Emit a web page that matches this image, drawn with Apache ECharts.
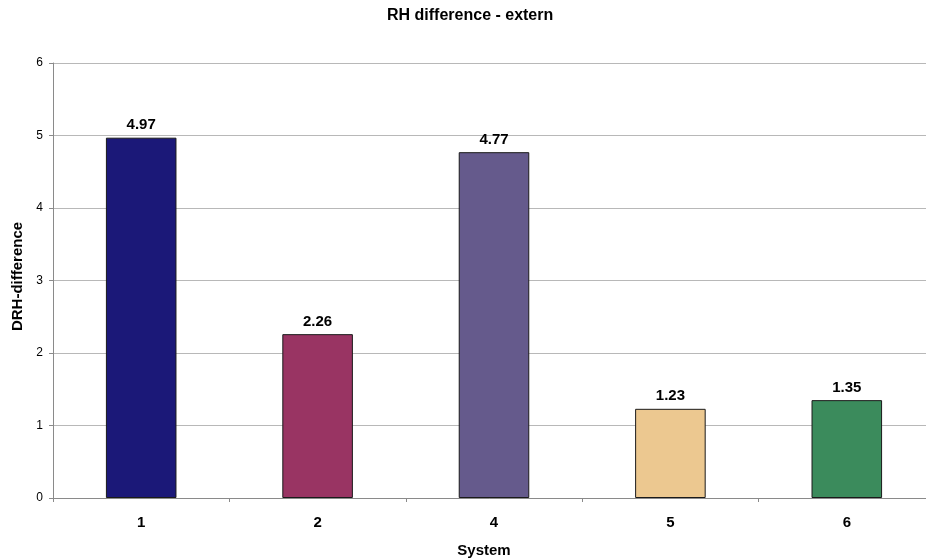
<!DOCTYPE html>
<html>
<head>
<meta charset="utf-8">
<script src="https://cdn.jsdelivr.net/npm/echarts@6/dist/echarts.min.js"></script>
<style>
  html, body { margin: 0; padding: 0; background: #fff; }
  #chart { width: 926px; height: 558px; }
</style>
</head>
<body>
<div id="chart"></div>
<script>
// System categories and their RH differences
const systems = ['1', '2', '4', '5', '6'];
const rhDiff = [4.97, 2.26, 4.77, 1.23, 1.35];
const barColors = ['#1b1878', '#993463', '#655a8c', '#ecc890', '#3b8b5c'];
const yTicks = [0, 1, 2, 3, 4, 5, 6];

const font = 'Liberation Sans, Arial, sans-serif';
const chart = echarts.init(document.getElementById('chart'), null, { renderer: 'canvas' });

chart.setOption({
  backgroundColor: '#ffffff',
  animation: false,
  title: {
    text: 'RH difference - extern',
    left: 387,
    top: 8,
    padding: 0,
    textStyle: { fontFamily: font, fontSize: 16, fontWeight: 'bold', color: '#000' }
  },
  // plot area runs a little past the right edge of the canvas
  grid: { left: 53, top: 63, width: 882, height: 435, containLabel: false, outerBoundsMode: 'none' },
  xAxis: {
    type: 'category',
    data: systems,
    name: 'System',
    nameLocation: 'middle',
    nameGap: 45,
    nameTextStyle: { fontFamily: font, fontSize: 15, fontWeight: 'bold', color: '#000', padding: [0, 20, 0, 0] },
    axisLine: { lineStyle: { color: '#8a8a8a', width: 1 } },
    axisTick: { show: true, length: 4, lineStyle: { color: '#8a8a8a' } },
    axisLabel: { fontFamily: font, fontSize: 15, fontWeight: 'bold', color: '#000', margin: 17 }
  },
  yAxis: {
    type: 'value',
    min: yTicks[0],
    max: yTicks[yTicks.length - 1],
    interval: 1,
    name: 'DRH-difference',
    nameLocation: 'middle',
    nameGap: 22,
    nameTextStyle: { fontFamily: font, fontSize: 15, fontWeight: 'bold', color: '#000', padding: [0, 0, 0, 8] },
    axisLine: { show: true, lineStyle: { color: '#8a8a8a', width: 1 } },
    axisTick: { show: true, length: 4, lineStyle: { color: '#8a8a8a' } },
    axisLabel: { fontFamily: font, fontSize: 12, color: '#000', margin: 10 },
    splitLine: { show: true, lineStyle: { color: '#b8b8b8', width: 1 } }
  },
  series: [{
    type: 'bar',
    data: rhDiff.map((v, i) => ({ value: v, itemStyle: { color: barColors[i] } })),
    barWidth: '40%',
    itemStyle: { borderColor: '#1a1a1a', borderWidth: 1 },
    label: {
      show: true,
      position: 'top',
      distance: 5,
      formatter: (p) => p.value.toFixed(2),
      fontFamily: font,
      fontSize: 15,
      fontWeight: 'bold',
      color: '#000'
    }
  }]
});
</script>
</body>
</html>
